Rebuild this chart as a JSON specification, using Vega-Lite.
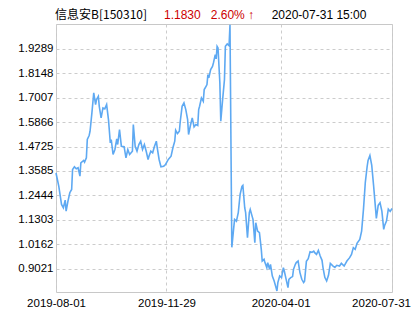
{
  "$schema": "https://vega.github.io/schema/vega-lite/v6.json",
  "width": 336,
  "height": 268,
  "autosize": {"type": "none"},
  "padding": {"left": 56, "top": 24, "right": 23, "bottom": 38},
  "background": "white",
  "config": {
    "view": {"stroke": "#c8c8c8", "strokeWidth": 1},
    "axis": {"domain": false, "ticks": false, "grid": true, "gridColor": "#cccccc", "gridDash": [3, 3], "gridWidth": 1, "labelFont": "Liberation Sans", "labelFontSize": 11.5, "labelColor": "#000000", "title": null, "labelOverlap": false}
  },
  "layer": [
    {
      "data": {"values": [
        {"date": "2019-08-01", "value": 1.3493},
        {"date": "2019-08-04", "value": 1.2877},
        {"date": "2019-08-07", "value": 1.2023},
        {"date": "2019-08-09", "value": 1.1869},
        {"date": "2019-08-11", "value": 1.2223},
        {"date": "2019-08-12", "value": 1.1710},
        {"date": "2019-08-14", "value": 1.2177},
        {"date": "2019-08-16", "value": 1.2569},
        {"date": "2019-08-18", "value": 1.2723},
        {"date": "2019-08-19", "value": 1.3656},
        {"date": "2019-08-21", "value": 1.3782},
        {"date": "2019-08-23", "value": 1.3689},
        {"date": "2019-08-25", "value": 1.3735},
        {"date": "2019-08-27", "value": 1.3343},
        {"date": "2019-08-28", "value": 1.3969},
        {"date": "2019-08-31", "value": 1.4076},
        {"date": "2019-09-01", "value": 1.3997},
        {"date": "2019-09-03", "value": 1.4202},
        {"date": "2019-09-04", "value": 1.5056},
        {"date": "2019-09-06", "value": 1.5243},
        {"date": "2019-09-07", "value": 1.5444},
        {"date": "2019-09-09", "value": 1.6302},
        {"date": "2019-09-11", "value": 1.7236},
        {"date": "2019-09-13", "value": 1.6690},
        {"date": "2019-09-14", "value": 1.6923},
        {"date": "2019-09-16", "value": 1.7077},
        {"date": "2019-09-17", "value": 1.6610},
        {"date": "2019-09-19", "value": 1.6069},
        {"date": "2019-09-21", "value": 1.6536},
        {"date": "2019-09-23", "value": 1.6489},
        {"date": "2019-09-25", "value": 1.6690},
        {"date": "2019-09-27", "value": 1.5990},
        {"date": "2019-09-29", "value": 1.4902},
        {"date": "2019-09-30", "value": 1.5056},
        {"date": "2019-10-02", "value": 1.4356},
        {"date": "2019-10-04", "value": 1.4590},
        {"date": "2019-10-06", "value": 1.5089},
        {"date": "2019-10-07", "value": 1.4823},
        {"date": "2019-10-09", "value": 1.5523},
        {"date": "2019-10-11", "value": 1.4744},
        {"date": "2019-10-14", "value": 1.4720},
        {"date": "2019-10-16", "value": 1.4202},
        {"date": "2019-10-18", "value": 1.4590},
        {"date": "2019-10-20", "value": 1.4356},
        {"date": "2019-10-23", "value": 1.4510},
        {"date": "2019-10-24", "value": 1.5756},
        {"date": "2019-10-26", "value": 1.4744},
        {"date": "2019-10-28", "value": 1.4510},
        {"date": "2019-10-30", "value": 1.4823},
        {"date": "2019-11-01", "value": 1.4977},
        {"date": "2019-11-03", "value": 1.4590},
        {"date": "2019-11-05", "value": 1.4823},
        {"date": "2019-11-07", "value": 1.4510},
        {"date": "2019-11-09", "value": 1.4123},
        {"date": "2019-11-10", "value": 1.4277},
        {"date": "2019-11-12", "value": 1.4510},
        {"date": "2019-11-14", "value": 1.4436},
        {"date": "2019-11-16", "value": 1.4744},
        {"date": "2019-11-18", "value": 1.4977},
        {"date": "2019-11-19", "value": 1.4669},
        {"date": "2019-11-21", "value": 1.4123},
        {"date": "2019-11-23", "value": 1.3782},
        {"date": "2019-11-26", "value": 1.3810},
        {"date": "2019-11-28", "value": 1.3889},
        {"date": "2019-12-01", "value": 1.4123},
        {"date": "2019-12-04", "value": 1.4277},
        {"date": "2019-12-06", "value": 1.4669},
        {"date": "2019-12-08", "value": 1.4977},
        {"date": "2019-12-09", "value": 1.5490},
        {"date": "2019-12-11", "value": 1.5336},
        {"date": "2019-12-13", "value": 1.5444},
        {"date": "2019-12-14", "value": 1.5910},
        {"date": "2019-12-16", "value": 1.6610},
        {"date": "2019-12-18", "value": 1.6769},
        {"date": "2019-12-20", "value": 1.6456},
        {"date": "2019-12-22", "value": 1.5990},
        {"date": "2019-12-23", "value": 1.5290},
        {"date": "2019-12-25", "value": 1.5710},
        {"date": "2019-12-27", "value": 1.6069},
        {"date": "2019-12-29", "value": 1.5649},
        {"date": "2019-12-31", "value": 1.5756},
        {"date": "2020-01-02", "value": 1.5710},
        {"date": "2020-01-03", "value": 1.6456},
        {"date": "2020-01-04", "value": 1.6610},
        {"date": "2020-01-06", "value": 1.7002},
        {"date": "2020-01-08", "value": 1.6844},
        {"date": "2020-01-09", "value": 1.7390},
        {"date": "2020-01-11", "value": 1.7544},
        {"date": "2020-01-12", "value": 1.7623},
        {"date": "2020-01-13", "value": 1.8090},
        {"date": "2020-01-14", "value": 1.7936},
        {"date": "2020-01-16", "value": 1.8323},
        {"date": "2020-01-18", "value": 1.8477},
        {"date": "2020-01-19", "value": 1.8636},
        {"date": "2020-01-21", "value": 1.9023},
        {"date": "2020-01-22", "value": 1.8822},
        {"date": "2020-01-23", "value": 1.9411},
        {"date": "2020-01-24", "value": 1.9336},
        {"date": "2020-01-26", "value": 1.7702},
        {"date": "2020-01-27", "value": 1.5910},
        {"date": "2020-01-29", "value": 1.6923},
        {"date": "2020-01-31", "value": 1.7856},
        {"date": "2020-02-01", "value": 1.9411},
        {"date": "2020-02-03", "value": 1.9523},
        {"date": "2020-02-05", "value": 1.9443},
        {"date": "2020-02-06", "value": 2.0423},
        {"date": "2020-02-08", "value": 1.0016},
        {"date": "2020-02-10", "value": 1.0903},
        {"date": "2020-02-11", "value": 1.1323},
        {"date": "2020-02-13", "value": 1.1243},
        {"date": "2020-02-15", "value": 1.1635},
        {"date": "2020-02-17", "value": 1.2489},
        {"date": "2020-02-19", "value": 1.2863},
        {"date": "2020-02-20", "value": 1.2909},
        {"date": "2020-02-22", "value": 1.1869},
        {"date": "2020-02-23", "value": 1.1635},
        {"date": "2020-02-25", "value": 1.0469},
        {"date": "2020-02-27", "value": 1.1635},
        {"date": "2020-02-28", "value": 1.1789},
        {"date": "2020-03-01", "value": 1.1477},
        {"date": "2020-03-02", "value": 1.1323},
        {"date": "2020-03-04", "value": 1.0235},
        {"date": "2020-03-05", "value": 1.1169},
        {"date": "2020-03-07", "value": 1.0777},
        {"date": "2020-03-09", "value": 1.0702},
        {"date": "2020-03-11", "value": 0.9922},
        {"date": "2020-03-12", "value": 0.9377},
        {"date": "2020-03-14", "value": 0.9456},
        {"date": "2020-03-15", "value": 0.9302},
        {"date": "2020-03-17", "value": 0.9068},
        {"date": "2020-03-18", "value": 0.9302},
        {"date": "2020-03-20", "value": 0.8989},
        {"date": "2020-03-21", "value": 0.9222},
        {"date": "2020-03-23", "value": 0.8676},
        {"date": "2020-03-25", "value": 0.8443},
        {"date": "2020-03-27", "value": 0.8135},
        {"date": "2020-03-28", "value": 0.7976},
        {"date": "2020-03-29", "value": 0.8368},
        {"date": "2020-03-31", "value": 0.8676},
        {"date": "2020-04-02", "value": 0.8602},
        {"date": "2020-04-04", "value": 0.9068},
        {"date": "2020-04-05", "value": 0.8910},
        {"date": "2020-04-07", "value": 0.8522},
        {"date": "2020-04-09", "value": 0.8135},
        {"date": "2020-04-10", "value": 0.8522},
        {"date": "2020-04-12", "value": 0.8602},
        {"date": "2020-04-14", "value": 0.8650},
        {"date": "2020-04-15", "value": 0.8989},
        {"date": "2020-04-17", "value": 0.9222},
        {"date": "2020-04-18", "value": 0.9302},
        {"date": "2020-04-20", "value": 0.9377},
        {"date": "2020-04-22", "value": 0.8835},
        {"date": "2020-04-24", "value": 0.8522},
        {"date": "2020-04-26", "value": 0.8368},
        {"date": "2020-04-27", "value": 0.8429},
        {"date": "2020-04-29", "value": 0.9363},
        {"date": "2020-05-01", "value": 0.9489},
        {"date": "2020-05-03", "value": 0.9806},
        {"date": "2020-05-05", "value": 0.9783},
        {"date": "2020-05-07", "value": 0.9843},
        {"date": "2020-05-08", "value": 0.9769},
        {"date": "2020-05-10", "value": 0.9689},
        {"date": "2020-05-12", "value": 0.9876},
        {"date": "2020-05-14", "value": 0.9610},
        {"date": "2020-05-16", "value": 0.9409},
        {"date": "2020-05-17", "value": 0.9082},
        {"date": "2020-05-19", "value": 0.8616},
        {"date": "2020-05-21", "value": 0.8443},
        {"date": "2020-05-23", "value": 0.8709},
        {"date": "2020-05-25", "value": 0.9269},
        {"date": "2020-05-28", "value": 0.9143},
        {"date": "2020-05-30", "value": 0.9082},
        {"date": "2020-06-01", "value": 0.9176},
        {"date": "2020-06-04", "value": 0.9143},
        {"date": "2020-06-06", "value": 0.9269},
        {"date": "2020-06-09", "value": 0.9143},
        {"date": "2020-06-12", "value": 0.9377},
        {"date": "2020-06-15", "value": 0.9535},
        {"date": "2020-06-17", "value": 0.9689},
        {"date": "2020-06-19", "value": 1.0002},
        {"date": "2020-06-21", "value": 0.9922},
        {"date": "2020-06-23", "value": 1.0203},
        {"date": "2020-06-26", "value": 1.0389},
        {"date": "2020-06-28", "value": 1.0777},
        {"date": "2020-06-30", "value": 1.1789},
        {"date": "2020-07-02", "value": 1.3049},
        {"date": "2020-07-04", "value": 1.3796},
        {"date": "2020-07-05", "value": 1.4076},
        {"date": "2020-07-07", "value": 1.4309},
        {"date": "2020-07-09", "value": 1.3843},
        {"date": "2020-07-11", "value": 1.2909},
        {"date": "2020-07-13", "value": 1.1883},
        {"date": "2020-07-14", "value": 1.1369},
        {"date": "2020-07-16", "value": 1.1976},
        {"date": "2020-07-18", "value": 1.2102},
        {"date": "2020-07-20", "value": 1.1710},
        {"date": "2020-07-22", "value": 1.0856},
        {"date": "2020-07-23", "value": 1.1043},
        {"date": "2020-07-25", "value": 1.1243},
        {"date": "2020-07-27", "value": 1.1803},
        {"date": "2020-07-29", "value": 1.1696},
        {"date": "2020-07-31", "value": 1.1830}
      ]},
      "mark": {"type": "line", "color": "#5ea9f2", "strokeWidth": 1.6},
      "encoding": {
        "x": {
          "field": "date", "type": "temporal",
          "scale": {"type": "utc", "domain": [{"year": 2019, "month": 8, "date": 1, "utc": true}, {"year": 2020, "month": 7, "date": 31, "utc": true}]},
          "axis": {
            "values": [
              {"year": 2019, "month": 8, "date": 1, "utc": true},
              {"year": 2019, "month": 11, "date": 29, "utc": true},
              {"year": 2020, "month": 4, "date": 1, "utc": true},
              {"year": 2020, "month": 7, "date": 31, "utc": true}
            ],
            "tickCount": 10,
            "format": "%Y-%m-%d",
            "labelAlign": "center",
            "labelBaseline": "top",
            "labelPadding": 5,
            "labelFlush": false,
            "labelOverlap": false,
            "labelOffset": {"condition": {"test": "datum.value > 1596000000000", "value": -11}, "value": 0}
          }
        },
        "y": {
          "field": "value", "type": "quantitative",
          "scale": {"domain": [0.7929, 2.0456], "nice": false, "zero": false},
          "axis": {
            "values": [0.9021, 1.0162, 1.1303, 1.2444, 1.3585, 1.4725, 1.5866, 1.7007, 1.8148, 1.9289],
            "tickCount": 20,
            "format": ".4f",
            "labelPadding": 3,
            "labelOverlap": false
          }
        }
      }
    },
    {
      "data": {"values": [{"name": "信息安B[150310]"}]},
      "mark": {"type": "text", "color": "#000000", "align": "left", "baseline": "middle", "font": "Noto Sans CJK SC", "fontSize": 12, "clip": false},
      "encoding": {
        "x": {"datum": {"year": 2019, "month": 7, "date": 31, "utc": true}, "type": "temporal"},
        "y": {"datum": 2.0857, "type": "quantitative"},
        "text": {"field": "name"}
      }
    },
    {
      "data": {"values": [{"quote": "1.1830\u00a0\u00a0\u00a02.60%\u00a0↑"}]},
      "mark": {"type": "text", "color": "#cc0000", "align": "left", "baseline": "middle", "font": "Liberation Sans", "fontSize": 12, "clip": false},
      "encoding": {
        "x": {"datum": {"year": 2019, "month": 11, "date": 26, "hours": 8, "utc": true}, "type": "temporal"},
        "y": {"datum": 2.0857, "type": "quantitative"},
        "text": {"field": "quote"}
      }
    },
    {
      "data": {"values": [{"stamp": "2020-07-31 15:00"}]},
      "mark": {"type": "text", "color": "#000000", "align": "left", "baseline": "middle", "font": "Liberation Sans", "fontSize": 12, "clip": false},
      "encoding": {
        "x": {"datum": {"year": 2020, "month": 3, "date": 22, "hours": 7, "utc": true}, "type": "temporal"},
        "y": {"datum": 2.0857, "type": "quantitative"},
        "text": {"field": "stamp"}
      }
    }
  ]
}
